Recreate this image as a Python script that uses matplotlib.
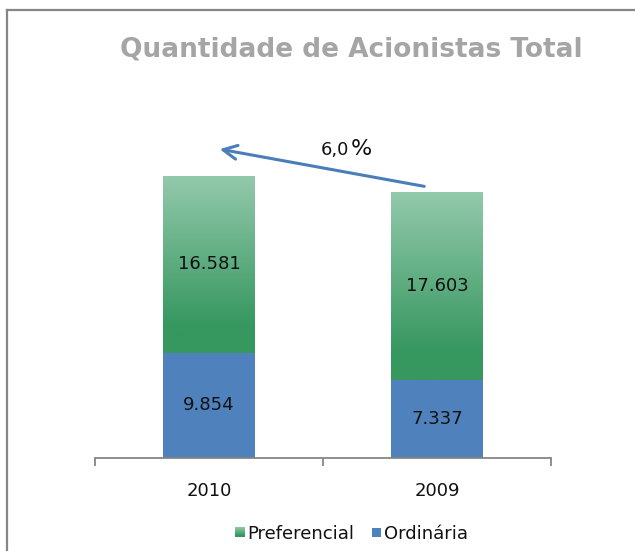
import matplotlib
matplotlib.use("Agg")
import matplotlib.pyplot as plt
import numpy as np
from matplotlib.lines import Line2D
from matplotlib.colors import LinearSegmentedColormap
from matplotlib.patches import Rectangle
from matplotlib.legend_handler import HandlerBase
from matplotlib.transforms import offset_copy

categories = ["2010", "2009"]
ordinaria = [9854, 7337]
preferencial = [16581, 17603]
variation_number = "6,0"
variation_sign = "%"
title = "Quantidade de Acionistas Total"

W, H = 635, 551
fig = plt.figure(figsize=(W / 100, H / 100), dpi=100)
plt.rcParams['font.family'] = ['DejaVu Sans']

ax = fig.add_axes([95 / W, (H - 458) / H, (551 - 95) / W, 320 / H])
x = np.arange(len(categories))
bw = 0.4
blue = "#4f81bd"
green_cmap = LinearSegmentedColormap.from_list(
    "g", [(0, "#93c9ac"), (0.85, "#36975f"), (1.0, "#36975f")])

bars_o = ax.bar(x, ordinaria, bw, color=blue, zorder=2)
bars_p = ax.bar(x, preferencial, bw, bottom=ordinaria, color="none", zorder=2)
grad = np.linspace(0, 1, 256).reshape(-1, 1)
for b in bars_p:
    x0, y0 = b.get_x(), b.get_y()
    w, h = b.get_width(), b.get_height()
    ax.imshow(grad, cmap=green_cmap, aspect="auto", origin="upper",
              extent=[x0, x0 + w, y0, y0 + h], zorder=2)

for i in range(len(categories)):
    ax.text(x[i], ordinaria[i] / 2, f"{ordinaria[i]:,}".replace(",", "."),
            ha="center", va="center", fontsize=13, color="#111111", zorder=3)
    ax.text(x[i], ordinaria[i] + preferencial[i] / 2,
            f"{preferencial[i]:,}".replace(",", "."),
            ha="center", va="center", fontsize=13, color="#111111", zorder=3)

ax.set_xlim(-0.5, 1.5)
ax.set_ylim(0, 30000)
for s in ["top", "right", "left"]:
    ax.spines[s].set_visible(False)
ax.spines["bottom"].set_color("#868686")
ax.spines["bottom"].set_linewidth(1.3)
ax.set_yticks([])
ax.set_xticks(x)
ax.set_xticklabels(categories, fontsize=13, color="#111111")
ax.tick_params(axis="x", which="major", length=0, pad=17)
ax.set_xticks([-0.5, 0.5, 1.5], minor=True)
ax.tick_params(axis="x", which="minor", length=6, width=1.3, color="#868686")

# Arrow
ax.annotate("", xy=(0.035, 29000), xytext=(0.956, 25420),
            arrowprops=dict(arrowstyle="->,head_length=1.0,head_width=0.5",
                            color="#4a7ebb", lw=2.2), zorder=4)
ax.text(0.615, 28450, variation_number, ha="right", va="baseline",
        fontsize=13, color="#111111")
ax.text(0.615, 28450, variation_sign, ha="left", va="baseline",
        fontsize=16, color="#111111",
        transform=offset_copy(ax.transData, fig=fig, x=1, y=0, units="points"))

fig.text(351 / W, 1 - 50 / H, title, ha="center", va="center",
         fontsize=19, fontweight="bold", color="#a5a5a5")

# Legend
class GradHandler(HandlerBase):
    def create_artists(self, legend, orig, xd, yd, width, height, fontsize, trans):
        from matplotlib.image import BboxImage
        from matplotlib.transforms import Bbox, TransformedBbox
        s = height * 0.72
        x0 = xd + width - s
        y0 = yd + (height - s) / 2
        bb = TransformedBbox(Bbox.from_bounds(x0, y0, s, s), trans)
        im = BboxImage(bb, cmap=green_cmap, interpolation="bilinear")
        im.set_data(grad)
        return [im]

class SqHandler(HandlerBase):
    def create_artists(self, legend, orig, xd, yd, width, height, fontsize, trans):
        s = height * 0.72
        r = Rectangle((xd + width - s, yd + (height - s) / 2), s, s,
                      facecolor=blue, transform=trans)
        return [r]

h1 = Rectangle((0, 0), 1, 1)
h2 = Line2D([], [])
fig.legend([h1, h2], ["Preferencial", "Ordinária"],
           handler_map={h1: GradHandler(), h2: SqHandler()},
           loc="center", bbox_to_anchor=(350 / W, 1 - 534 / H), ncol=2,
           frameon=False, fontsize=13, handlelength=0.7, handletextpad=0.15,
           columnspacing=0.8, labelcolor="#111111")

# Frame
fig.add_artist(Line2D([7 / W, 7 / W], [0, 1 - 10 / H], transform=fig.transFigure,
                      color="#868686", lw=1.6))
fig.add_artist(Line2D([7 / W, 1], [1 - 10 / H, 1 - 10 / H], transform=fig.transFigure,
                      color="#868686", lw=1.6))

fig.savefig("out.png", dpi=100, facecolor="white")
